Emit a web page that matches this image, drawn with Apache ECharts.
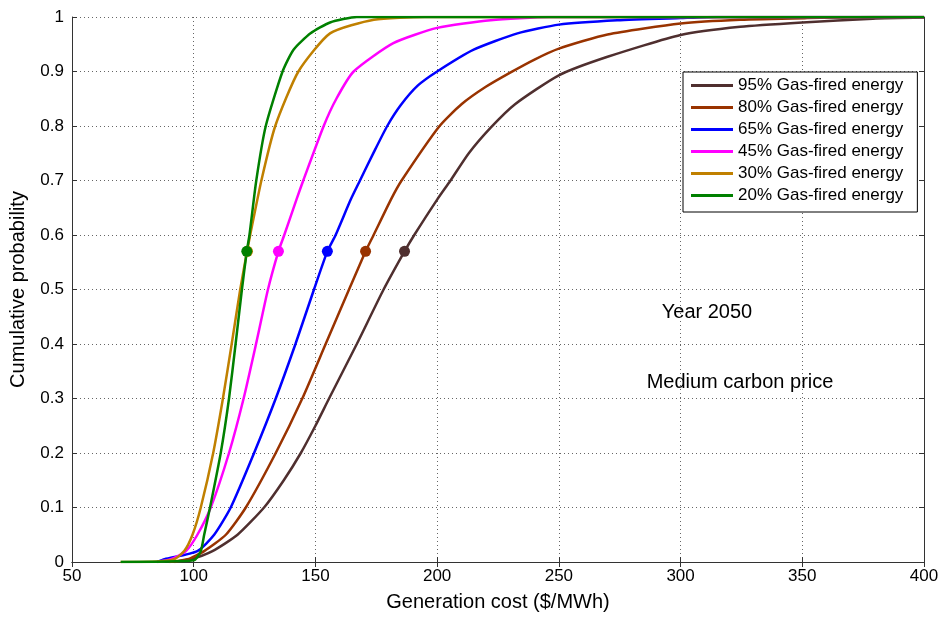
<!DOCTYPE html>
<html>
<head>
  <meta charset="utf-8">
  <title>Generation cost CDF</title>
  <script src="https://cdn.jsdelivr.net/npm/echarts@6/dist/echarts.min.js"></script>
  <style>
    body { margin: 0; background: #fff; }
  </style>
</head>
<body>
  <div id="main" style="width: 943px;height:617px;"></div>
  <script type="text/javascript">
    // axis ticks
    var xTicks = [50, 100, 150, 200, 250, 300, 350, 400];
    var yTicks = [0, 0.1, 0.2, 0.3, 0.4, 0.5, 0.6, 0.7, 0.8, 0.9, 1];

    var names = ['95% Gas-fired energy', '80% Gas-fired energy', '65% Gas-fired energy',
                 '45% Gas-fired energy', '30% Gas-fired energy', '20% Gas-fired energy'];

    // [cost $/MWh, cumulative probability]
    var gas95 = [[92,0],[98.8,0.005],[107.7,0.02],[118,0.05],[128.9,0.1],[137,0.15],[144,0.2],
                 [150,0.25],[155.6,0.3],[167,0.4],[178,0.5],[186.6,0.57],[190.6,0.6],[200,0.665],
                 [205.5,0.7],[213,0.75],[222,0.797],[232,0.84],[250,0.893],[270,0.927],
                 [300,0.967],[324.5,0.982],[350,0.99],[379,0.997],[400,0.999]];
    var gas80 = [[90,0],[97.4,0.005],[104.3,0.02],[113.2,0.05],[121.4,0.1],[133.7,0.2],[144.6,0.3],
                 [154.2,0.4],[163.8,0.5],[170.6,0.57],[173.9,0.6],[181,0.665],[185.4,0.7],[201,0.8],
                 [210,0.84],[220,0.872],[230,0.898],[240,0.922],[250,0.942],[270,0.968],
                 [300,0.988],[324.5,0.995],[352,0.998],[380,1],[400,1]];
    var gas65 = [[85,0],[88,0.005],[101.5,0.02],[108.4,0.05],[115.2,0.1],[124.8,0.2],[133.7,0.3],
                 [141.8,0.4],[149.4,0.5],[154.9,0.57],[158.3,0.6],[164.5,0.665],[168.3,0.7],
                 [174,0.752],[179.5,0.8],[185,0.838],[192,0.874],[200,0.9],[215,0.94],[233,0.97],
                 [250,0.986],[274,0.994],[300,0.998],[315,1],[400,1]];
    var gas45 = [[85,0],[90.6,0.005],[96.8,0.02],[101.5,0.05],[107,0.1],[114.5,0.2],[120.5,0.3],
                 [125.6,0.4],[130.5,0.5],[134.8,0.57],[137.2,0.6],[142.2,0.665],[145,0.7],
                 [153.4,0.8],[158.6,0.85],[165.7,0.9],[182,0.952],[200,0.98],[222,0.994],
                 [246,1],[400,1]];
    var gas30 = [[70,0],[85,0.001],[92,0.005],[96.1,0.02],[99.5,0.05],[102.9,0.1],[108,0.2],
                 [112,0.3],[115.6,0.4],[119.1,0.5],[121.9,0.57],[123.2,0.6],[127.8,0.7],
                 [133.5,0.8],[143,0.9],[156,0.97],[174,0.995],[195,1],[400,1]];
    var gas20 = [[70,0],[100,0.003],[102.9,0.02],[104.3,0.05],[106.7,0.1],[111.1,0.2],[114.5,0.3],
                 [117.2,0.4],[119.8,0.5],[121.8,0.57],[122.9,0.6],[125.7,0.7],[129.6,0.8],
                 [136.5,0.9],[141,0.94],[148,0.97],[156,0.99],[167,1],[400,1]];

    // mean cost markers (same order as names)
    var meanCost = [186.6, 170.6, 154.9, 134.8, 122.1, 121.8];
    var meanProb = 0.57;

    var colors = ['#4f2f2f', '#993300', '#0000ff', '#ff00ff', '#c08000', '#008000'];
    var curves = [gas95, gas80, gas65, gas45, gas30, gas20];

    var font = "'Liberation Sans', Arial, sans-serif";
    var myChart = echarts.init(document.getElementById('main'));

    var series = curves.map(function (d, i) {
      return {
        name: names[i],
        type: 'line',
        data: d,
        showSymbol: false,
        smooth: 0.2,
        color: colors[i],
        lineStyle: { width: 2.5, color: colors[i] },
        z: 3
      };
    });
    series.push({
      type: 'scatter',
      symbol: 'circle',
      symbolSize: 11,
      z: 5,
      data: meanCost.map(function (c, i) {
        return { value: [c, meanProb], itemStyle: { color: colors[i], opacity: 1 } };
      })
    });

    var tickInside = { show: true, inside: true, length: 5, lineStyle: { color: '#333' } };
    var boxLine = { show: true, lineStyle: { color: '#333', width: 1 } };
    var dotted = { show: true, lineStyle: { color: '#666', type: [1, 3], width: 1 } };

    var option = {
      animation: false,
      backgroundColor: '#fff',
      textStyle: { fontFamily: font },
      grid: { left: 71, right: 19, top: 17, bottom: 53 },
      legend: {
        orient: 'vertical',
        left: 683,
        top: 72,
        data: names,
        icon: 'rect',
        itemWidth: 42,
        itemHeight: 3,
        itemGap: 5,
        padding: [5, 14, 8, 8],
        borderColor: '#000',
        borderWidth: 1,
        backgroundColor: '#fff',
        textStyle: { fontFamily: font, fontSize: 17, color: '#000', lineHeight: 17 }
      },
      xAxis: [{
        type: 'value',
        min: xTicks[0], max: xTicks[xTicks.length - 1], interval: xTicks[1] - xTicks[0],
        name: 'Generation cost ($/MWh)',
        nameLocation: 'middle',
        nameGap: 30,
        nameTextStyle: { fontFamily: font, fontSize: 20, color: '#000' },
        axisLine: boxLine,
        axisTick: tickInside,
        axisLabel: { fontFamily: font, fontSize: 17, color: '#000', margin: 6 },
        splitLine: dotted
      }, {
        type: 'value', position: 'top',
        min: xTicks[0], max: xTicks[xTicks.length - 1], interval: xTicks[1] - xTicks[0],
        axisLine: boxLine, axisTick: tickInside,
        axisLabel: { show: false }, splitLine: { show: false }
      }],
      yAxis: [{
        type: 'value',
        min: yTicks[0], max: yTicks[yTicks.length - 1], interval: 0.1,
        name: 'Cumulative probability',
        nameLocation: 'middle',
        nameGap: 44,
        nameTextStyle: { fontFamily: font, fontSize: 20, color: '#000' },
        axisLine: boxLine,
        axisTick: tickInside,
        axisLabel: {
          fontFamily: font, fontSize: 17, color: '#000', margin: 8,
          formatter: function (v) { return String(Math.round(v * 10) / 10); }
        },
        splitLine: dotted
      }, {
        type: 'value', position: 'right',
        min: yTicks[0], max: yTicks[yTicks.length - 1], interval: 0.1,
        axisLine: boxLine, axisTick: tickInside,
        axisLabel: { show: false }, splitLine: { show: false }
      }],
      graphic: [
        { type: 'text', x: 707, y: 312,
          style: { text: 'Year 2050', fontFamily: font, fontSize: 20, fill: '#000',
                   align: 'center', verticalAlign: 'middle' } },
        { type: 'text', x: 740, y: 382,
          style: { text: 'Medium carbon price', fontFamily: font, fontSize: 20, fill: '#000',
                   align: 'center', verticalAlign: 'middle' } }
      ],
      series: series
    };

    myChart.setOption(option);
  </script>
</body>
</html>
